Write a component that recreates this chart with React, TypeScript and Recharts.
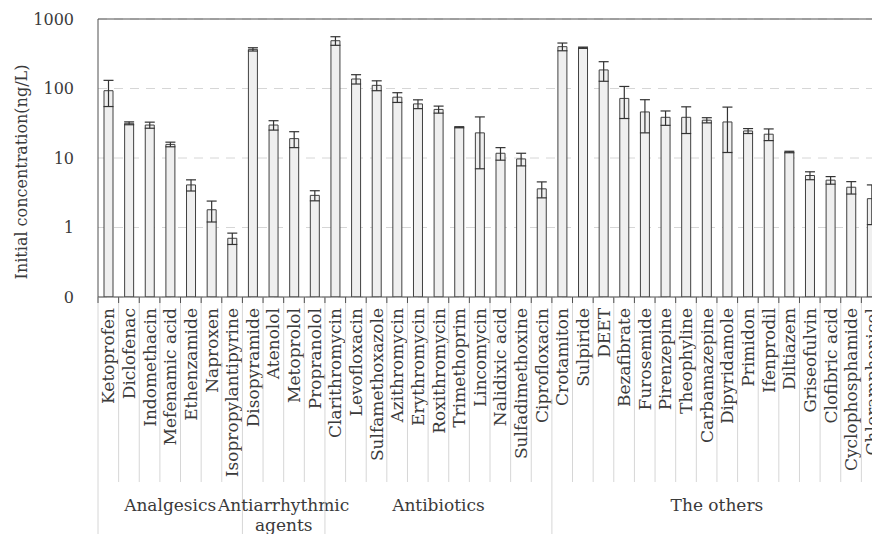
import { BarChart, Bar, XAxis, YAxis, CartesianGrid, ErrorBar, ReferenceLine } from 'recharts';

const compounds = [
  'Ketoprofen', 'Diclofenac', 'Indomethacin', 'Mefenamic acid', 'Ethenzamide', 'Naproxen', 'Isopropylantipyrine',
  'Disopyramide', 'Atenolol', 'Metoprolol', 'Propranolol',
  'Clarithromycin', 'Levofloxacin', 'Sulfamethoxazole', 'Azithromycin', 'Erythromycin', 'Roxithromycin',
  'Trimethoprim', 'Lincomycin', 'Nalidixic acid', 'Sulfadimethoxine', 'Ciprofloxacin',
  'Crotamiton', 'Sulpiride', 'DEET', 'Bezafibrate', 'Furosemide', 'Pirenzepine', 'Theophyline',
  'Carbamazepine', 'Dipyridamole', 'Primidon', 'Ifenprodil', 'Diltiazem', 'Griseofulvin',
  'Clofibric acid', 'Cyclophosphamide', 'Chloramphenicol',
];

const concentrations = [
  93, 31.6, 29.8, 15.7, 4.1, 1.8, 0.7,
  366, 29.8, 19, 2.9,
  487, 137, 111, 75, 60, 50, 27.7, 23, 11.7, 9.7, 3.6,
  400, 386, 185, 72, 46, 38.5, 38.5, 35, 33, 24.5, 22, 12.2, 5.6, 4.8, 3.8, 2.6,
];

const deviations = [
  38, 1.5, 3, 1.2, 0.75, 0.6, 0.13,
  20, 4.6, 4.9, 0.48,
  69, 21, 18, 12, 8.7, 5.8, 0.5, 16, 2.4, 2, 0.93,
  51, 8, 58, 35, 23, 9, 16, 3, 21, 2, 4.2, 0.3, 0.73, 0.6, 0.77, 1.5,
];

const groupNames = ['Analgesics', 'Antiarrhythmic\nagents', 'Antibiotics', 'The others'];
const groupCounts = [7, 4, 11, 16];

const yTicks = [0.1, 1, 10, 100, 1000];

const data = compounds.map((name, i) => ({ name, value: concentrations[i], err: deviations[i] }));

const CHART_W = 900;
const CHART_H = 534;
const MARGIN = { top: 19, right: 18, bottom: 0, left: 0 };
const Y_AXIS_W = 98;
const X_AXIS_H = 237;
const STEP = (CHART_W - MARGIN.left - MARGIN.right - Y_AXIS_W) / compounds.length;

const FONT = '"DejaVu Serif", serif';
const TEXT = '#3a3a3a';
const AXIS = '#505050';
const LIGHT = '#d6d6d6';

const groupStarts: number[] = [];
groupCounts.reduce((start, n) => {
  groupStarts.push(start);
  return start + n;
}, 0);

function CategoryTick(props: any) {
  const { x, y, payload } = props;
  const idx = compounds.indexOf(payload.value);
  const left = x - STEP / 2;
  const g = groupStarts.indexOf(idx);
  return (
    <g>
      <line x1={left} y1={y} x2={left} y2={g >= 0 ? CHART_H : 482} stroke={LIGHT} strokeWidth={1} />
      <line x1={left} y1={y} x2={left} y2={y + 6} stroke={AXIS} strokeWidth={1} />
      <text
        x={x}
        y={y + 11}
        dy="0.36em"
        textAnchor="end"
        transform={`rotate(-90, ${x}, ${y + 11})`}
        fill={TEXT}
        fontSize={17}
        fontFamily={FONT}
      >
        {payload.value}
      </text>
      {g >= 0 && (
        <text x={left + (groupCounts[g] * STEP) / 2} y={y + 214} textAnchor="middle" fill={TEXT} fontSize={17} fontFamily={FONT}>
          {groupNames[g].split('\n').map((line, k) => (
            <tspan key={k} x={left + (groupCounts[g] * STEP) / 2} dy={k === 0 ? 0 : 20}>
              {line}
            </tspan>
          ))}
        </text>
      )}
    </g>
  );
}

// axis title sits a bit below the plot's middle, like the original
function YLabel() {
  const cx = 27;
  const cy = 172;
  return (
    <text x={cx} y={cy} textAnchor="middle" transform={`rotate(-90, ${cx}, ${cy})`} fill={TEXT} fontSize={16} fontFamily={FONT}>
      Initial concentration(ng/L)
    </text>
  );
}

export default function App() {
  return (
    <div style={{ position: 'absolute', left: 0, top: 0, width: 872, height: 534, overflow: 'hidden', background: '#fff' }}>
      <BarChart width={CHART_W} height={CHART_H} data={data} margin={MARGIN}>
        <CartesianGrid vertical={false} stroke={LIGHT} strokeDasharray="9 7" />
        <XAxis
          dataKey="name"
          interval={0}
          height={X_AXIS_H}
          tickLine={false}
          tickSize={0}
          tickMargin={0}
          axisLine={{ stroke: AXIS }}
          tick={<CategoryTick />}
        />
        <YAxis
          scale="log"
          domain={[0.1, 1000]}
          allowDataOverflow
          ticks={yTicks}
          width={Y_AXIS_W}
          tickLine={false}
          axisLine={{ stroke: AXIS }}
          tickMargin={18}
          tickFormatter={(v: number) => (v < 1 ? '0' : String(v))}
          tick={{ fill: TEXT, fontSize: 16, fontFamily: FONT }}
          label={<YLabel />}
        />
        <ReferenceLine y={1000} stroke={AXIS} strokeWidth={1} />
        <Bar dataKey="value" barSize={9} fill="#efefef" stroke="#404040" strokeWidth={1} isAnimationActive={false}>
          <ErrorBar dataKey="err" width={5} stroke="#333" strokeWidth={1.2} direction="y" isAnimationActive={false} />
        </Bar>
      </BarChart>
    </div>
  );
}
